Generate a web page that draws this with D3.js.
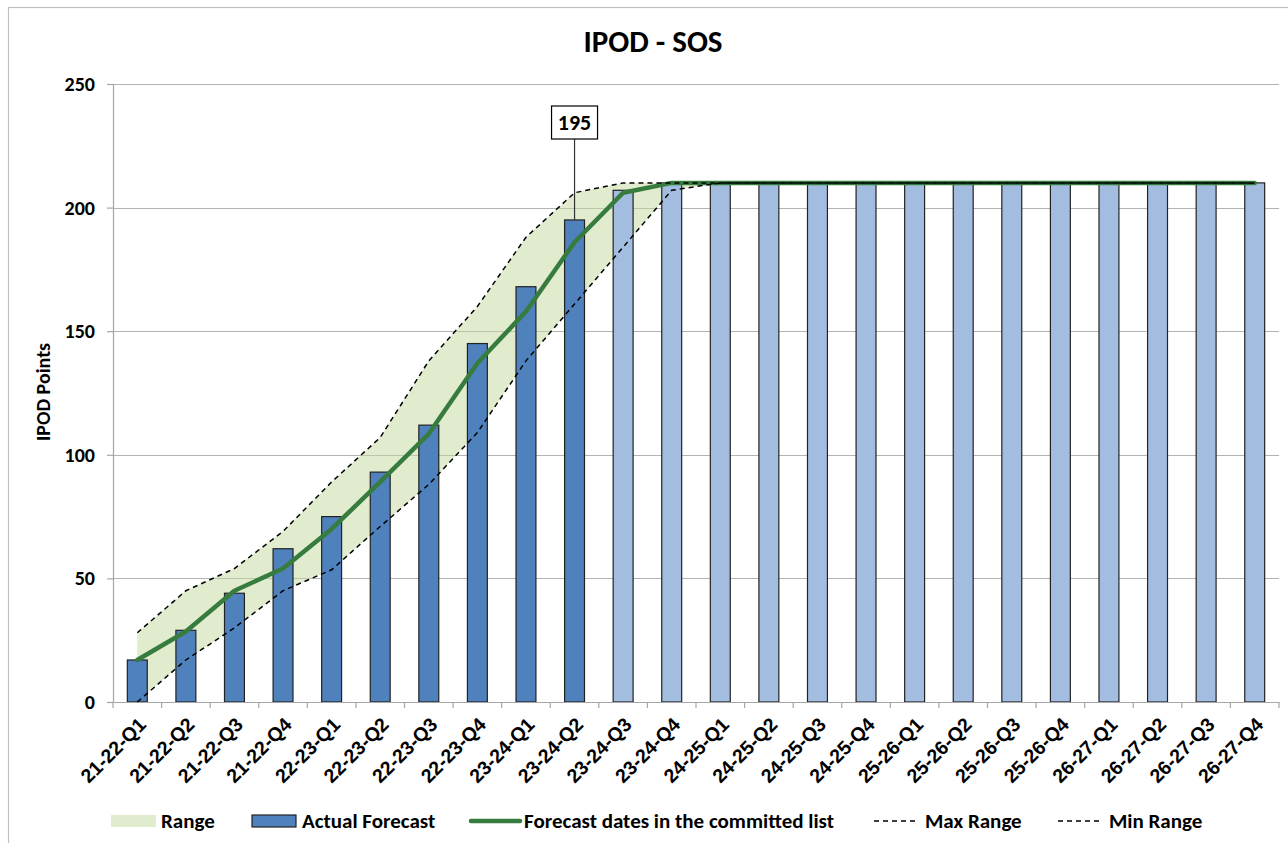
<!DOCTYPE html>
<html>
<head>
<meta charset="utf-8">
<script src="https://cdn.jsdelivr.net/npm/d3@7"></script>
<style>
  html, body { margin: 0; padding: 0; background: #fff; }
  svg { display: block; font-family: Carlito, Lato, "Open Sans", sans-serif; font-weight: bold; }
</style>
</head>
<body>
<svg id="chart" width="1288" height="843"></svg>
<script>
// ---- data ----
const categories = [
  "21-22-Q1","21-22-Q2","21-22-Q3","21-22-Q4",
  "22-23-Q1","22-23-Q2","22-23-Q3","22-23-Q4",
  "23-24-Q1","23-24-Q2","23-24-Q3","23-24-Q4",
  "24-25-Q1","24-25-Q2","24-25-Q3","24-25-Q4",
  "25-26-Q1","25-26-Q2","25-26-Q3","25-26-Q4",
  "26-27-Q1","26-27-Q2","26-27-Q3","26-27-Q4"
];
const actualForecast = [17, 29, 44, 62, 75, 93, 112, 145, 168, 195];
const plannedForecast = [207, 210, 210, 210, 210, 210, 210, 210, 210, 210, 210, 210, 210, 210];
const committedLine = [17, 28.5, 45, 54, 70, 89, 108.5, 137, 158, 186, 206, 210, 210, 210, 210, 210, 210, 210, 210, 210, 210, 210, 210, 210];
const maxRange = [28, 45, 54, 69, 89, 107, 138, 160, 188, 206, 210, 210, 210, 210, 210, 210, 210, 210, 210, 210, 210, 210, 210, 210];
const minRange = [0, 17, 30, 45, 53.5, 71, 88, 109, 138, 161, 184, 207, 210, 210, 210, 210, 210, 210, 210, 210, 210, 210, 210, 210];
const yTicks = [0, 50, 100, 150, 200, 250];
const labelledIndex = 9; // "195" callout
const title = "IPOD - SOS";
const yTitle = "IPOD Points";
const legendItems = ["Range", "Actual Forecast", "Forecast dates in the committed list", "Max Range", "Min Range"];

// ---- layout ----
const svg = d3.select("#chart");
const L = 113, R = 1279, T = 84, B = 702;
const x = d3.scaleBand().domain(categories).range([L, R]).padding(0);
const y = d3.scaleLinear().domain([0, 250]).range([B, T]);
const cx = c => x(c) + x.bandwidth() / 2;
const barW = x.bandwidth() * 0.41;

const C = {
  grid: "#b3b3b3", axis: "#a6a6a6", range: "#c4d79b", dark: "#4f81bd",
  light: "#a3bde0", barStroke: "#222", green: "#367c3e", text: "#000"
};

// chart border
svg.append("rect").attr("x", 8.5).attr("y", 7.5).attr("width", 1300).attr("height", 900)
  .attr("fill", "none").attr("stroke", "#c0c0c0").attr("stroke-width", 1.2);

// title
svg.append("text").attr("x", 653).attr("y", 52).attr("text-anchor", "middle")
  .attr("font-size", 31).text(title);

// gridlines
svg.append("g").selectAll("line").data(yTicks.filter(d => d > 0)).join("line")
  .attr("x1", L).attr("x2", R).attr("y1", d => Math.round(y(d)) + 0.5).attr("y2", d => Math.round(y(d)) + 0.5)
  .attr("stroke", C.grid).attr("stroke-width", 1.2);

// range area
const seriesIdx = d3.range(categories.length);
const area = d3.area().x(i => cx(categories[i])).y0(i => y(minRange[i])).y1(i => y(maxRange[i]));
svg.append("path").datum(seriesIdx).attr("d", area).attr("fill", C.range).attr("fill-opacity", 0.5);

// bars
const barData = categories.map((c, i) => ({
  c, v: i < actualForecast.length ? actualForecast[i] : plannedForecast[i - actualForecast.length],
  actual: i < actualForecast.length
}));
svg.append("g").selectAll("rect").data(barData).join("rect")
  .attr("x", d => cx(d.c) - barW / 2).attr("width", barW)
  .attr("y", d => y(d.v)).attr("height", d => y(0) - y(d.v))
  .attr("fill", d => d.actual ? C.dark : C.light)
  .attr("stroke", C.barStroke).attr("stroke-width", 1.2);

// axes
const yAxis = svg.append("g").attr("transform", `translate(${L},0)`)
  .call(d3.axisLeft(y).tickValues(yTicks).tickSize(6).tickPadding(12));
yAxis.select(".domain").attr("stroke", C.axis).attr("stroke-width", 1.2);
yAxis.selectAll(".tick line").attr("stroke", C.axis).attr("stroke-width", 1.2);
yAxis.selectAll(".tick text").attr("font-size", 20).attr("font-weight", "bold")
  .attr("font-family", "Carlito, Lato, sans-serif").attr("fill", C.text);

const xAxis = svg.append("g").attr("transform", `translate(0,${B})`)
  .call(d3.axisBottom(x).tickSize(0).tickFormat(""));
xAxis.select(".domain").attr("stroke", C.axis).attr("stroke-width", 1.2);
// tick marks at category boundaries
const bounds = categories.map(c => x(c)).concat([x.range()[1]]);
xAxis.selectAll(".bound").data(bounds).join("line").attr("class", "bound")
  .attr("x1", d => d).attr("x2", d => d).attr("y1", 0).attr("y2", 6)
  .attr("stroke", C.axis).attr("stroke-width", 1.2);
xAxis.selectAll(".xl").data(categories).join("text").attr("class", "xl")
  .attr("transform", d => `translate(${cx(d) + 5},${19}) rotate(-45)`)
  .attr("text-anchor", "end").attr("dy", "0.35em")
  .attr("font-size", 19.5).attr("fill", C.text).text(d => d);

// y title
svg.append("text").attr("transform", `translate(50,392) rotate(-90)`)
  .attr("text-anchor", "middle").attr("font-size", 20).text(yTitle);

// lines
const lineGen = arr => d3.line().x(i => cx(categories[i])).y(i => y(arr[i]));
svg.append("path").datum(seriesIdx).attr("d", lineGen(committedLine))
  .attr("fill", "none").attr("stroke", C.green).attr("stroke-width", 4.5)
  .attr("stroke-linejoin", "round").attr("stroke-linecap", "round");
[maxRange, minRange].forEach(arr => {
  svg.append("path").datum(seriesIdx).attr("d", lineGen(arr))
    .attr("fill", "none").attr("stroke", "#000").attr("stroke-width", 1.5)
    .attr("stroke-dasharray", "5,4");
});

// callout label
const lc = categories[labelledIndex], lv = actualForecast[labelledIndex];
const boxTop = 106, boxH = 33, boxW = 46;
svg.append("line").attr("x1", cx(lc)).attr("x2", cx(lc)).attr("y1", boxTop + boxH).attr("y2", y(lv))
  .attr("stroke", "#333").attr("stroke-width", 1.2);
svg.append("rect").attr("x", cx(lc) - boxW / 2).attr("y", boxTop).attr("width", boxW).attr("height", boxH)
  .attr("fill", "#fff").attr("stroke", "#000").attr("stroke-width", 1.2);
svg.append("text").attr("x", cx(lc)).attr("y", boxTop + boxH / 2).attr("dy", "0.36em")
  .attr("text-anchor", "middle").attr("font-size", 22).text(lv);

// legend
const lg = svg.append("g").attr("font-size", 21);
const ly = 821;
const legX = [111, 252, 471, 874, 1058];
const textX = [161, 302, 524, 925, 1109];
legendItems.forEach((name, i) => {
  const g = lg.append("g");
  if (i === 0) {
    g.append("rect").attr("x", legX[i]).attr("y", ly - 6).attr("width", 45).attr("height", 12)
      .attr("fill", C.range).attr("fill-opacity", 0.5);
  } else if (i === 1) {
    g.append("rect").attr("x", legX[i]).attr("y", ly - 6).attr("width", 44).attr("height", 12)
      .attr("fill", C.dark).attr("stroke", C.barStroke).attr("stroke-width", 1.2);
  } else if (i === 2) {
    g.append("line").attr("x1", legX[i]).attr("x2", legX[i] + 49).attr("y1", ly).attr("y2", ly)
      .attr("stroke", C.green).attr("stroke-width", 4.5).attr("stroke-linecap", "round");
  } else {
    g.append("line").attr("x1", legX[i]).attr("x2", legX[i] + 44).attr("y1", ly).attr("y2", ly)
      .attr("stroke", "#000").attr("stroke-width", 1.5).attr("stroke-dasharray", "5,4");
  }
  g.append("text").attr("x", textX[i]).attr("y", ly).attr("dy", "0.35em").text(name);
});
</script>
</body>
</html>
